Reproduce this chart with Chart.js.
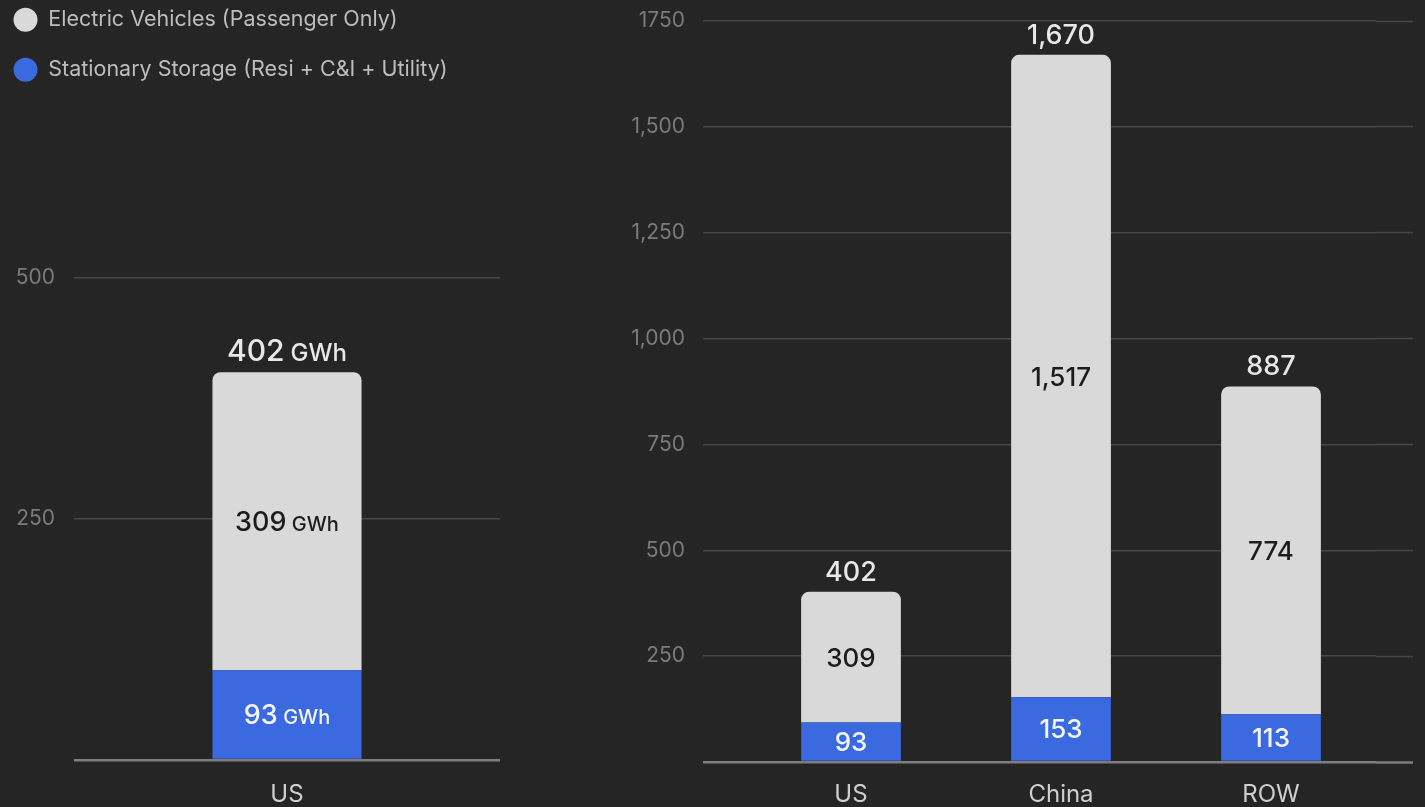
<!DOCTYPE html>
<html><head><meta charset="utf-8">
<script src="https://cdn.jsdelivr.net/npm/chart.js@4.4.1/dist/chart.umd.min.js"></script>
<style>
html,body{margin:0;padding:0;background:#252525;width:1425px;height:807px;overflow:hidden;}
#c1{position:absolute;left:0;top:0;}
#c2{position:absolute;left:560px;top:0;}
</style></head><body>
<canvas id="c1" width="560" height="807"></canvas>
<canvas id="c2" width="865" height="807"></canvas>
<script>
// ---- data ----
const seriesNames = ['Stationary Storage (Resi + C&I + Utility)', 'Electric Vehicles (Passenger Only)'];
const leftCategories = ['US'];
const leftStorage = [93];
const leftEV = [309];
const leftTickValues = [0, 250, 500];
const leftTickLabels = ['', '250', '500'];
const rightCategories = ['US', 'China', 'ROW'];
const rightStorage = [93, 153, 113];
const rightEV = [309, 1517, 774];
const rightTickValues = [0, 250, 500, 750, 1000, 1250, 1500, 1750];
const rightTickLabels = ['', '250', '500', '750', '1,000', '1,250', '1,500', '1750'];

// ---- styles ----
const BLUE = '#3b69e0';
const GREY = '#d9d9d9';
const GRID = '#474747';
const BASE = '#7e7e7e';
const FONT = 'Inter';

function drawLabel(ctx, x, y, value, sizes, color, unit, mode) {
  const num = value.toLocaleString('en-US');
  ctx.font = `500 ${sizes.num}px ${FONT}`;
  const w1 = ctx.measureText(num).width;
  let w2 = 0, gap = 0;
  if (unit) {
    ctx.font = `500 ${sizes.unit}px ${FONT}`;
    w2 = ctx.measureText(unit).width;
    gap = sizes.num * 0.2;
  }
  const sx = x - (w1 + gap + w2) / 2;
  const by = mode === 'mid' ? y + sizes.num * 0.364 : y;
  ctx.fillStyle = color;
  ctx.textAlign = 'left';
  ctx.textBaseline = 'alphabetic';
  ctx.font = `500 ${sizes.num}px ${FONT}`;
  ctx.fillText(num, sx, by);
  if (unit) {
    ctx.font = `500 ${sizes.unit}px ${FONT}`;
    ctx.fillText(unit, sx + w1 + gap, by);
  }
}

const valueLabels = {
  id: 'valueLabels',
  afterDatasetsDraw(chart, args, opts) {
    const ctx = chart.ctx;
    const m0 = chart.getDatasetMeta(0), m1 = chart.getDatasetMeta(1);
    ctx.save();
    m0.data.forEach((bar, i) => {
      const vS = chart.data.datasets[0].data[i];
      const vE = chart.data.datasets[1].data[i];
      const top = m1.data[i];
      drawLabel(ctx, bar.x, (bar.y + bar.base) / 2, vS, opts.inner, '#f3f5ff', opts.unit, 'mid');
      drawLabel(ctx, top.x, (top.y + top.base) / 2, vE, opts.inner, '#1c1c1c', opts.unit, 'mid');
      drawLabel(ctx, top.x, top.y - opts.gap, vS + vE, opts.total, '#e8e8e8', opts.unit, 'base');
    });
    ctx.restore();
  }
};

function gridColor(c) { return c.tick && c.tick.value === 0 ? BASE : GRID; }
function gridWidth(c) { return c.tick && c.tick.value === 0 ? 2.5 : 1.5; }

function datasets(storage, ev, pct) {
  return [
    { label: seriesNames[0], data: storage, backgroundColor: BLUE, borderWidth: 0, borderRadius: 0,
      categoryPercentage: 1, barPercentage: pct },
    { label: seriesNames[1], data: ev, backgroundColor: GREY, borderWidth: 0,
      borderRadius: { topLeft: 8, topRight: 8, bottomLeft: 0, bottomRight: 0 }, borderSkipped: 'start',
      categoryPercentage: 1, barPercentage: pct }
  ];
}

// ---- left chart ----
new Chart(document.getElementById('c1'), {
  type: 'bar',
  data: { labels: leftCategories, datasets: datasets(leftStorage, leftEV, 0.35) },
  options: {
    responsive: false, animation: false,
    layout: { padding: { top: -19.5, left: -15, right: 60, bottom: 0 } },
    plugins: {
      tooltip: { enabled: false },
      legend: {
        position: 'top', align: 'start',
        labels: {
          usePointStyle: true, pointStyle: 'circle', pointStyleWidth: 24, boxHeight: 17,
          padding: 28.5, color: '#bdbdbd', font: { family: FONT, size: 21.5 },
          sort: (a, b) => b.datasetIndex - a.datasetIndex
        }
      },
      valueLabels: { unit: 'GWh', inner: { num: 27, unit: 20 }, total: { num: 30, unit: 24 }, gap: 11 }
    },
    scales: {
      x: { stacked: true, grid: { display: false, drawTicks: false }, border: { display: false },
        afterFit: s => { s.height = 47; },
        ticks: { color: '#cfcfcf', font: { family: FONT, size: 24 }, padding: 20 } },
      y: { stacked: true, min: 0, max: 694,
        afterBuildTicks: s => { s.ticks = leftTickValues.map(v => ({ value: v })); },
        afterFit: s => { s.width = 89; },
        grid: { drawTicks: false, color: gridColor, lineWidth: gridWidth },
        border: { display: false },
        ticks: { padding: 19, color: '#7b7b7b', font: { family: FONT, size: 21 },
          callback: v => leftTickLabels[leftTickValues.indexOf(v)] } }
    }
  },
  plugins: [valueLabels]
});

// ---- right chart ----
new Chart(document.getElementById('c2'), {
  type: 'bar',
  data: { labels: rightCategories, datasets: datasets(rightStorage, rightEV, 0.475) },
  options: {
    responsive: false, animation: false,
    layout: { padding: { top: 21, left: 0, right: 0, bottom: 0 } },
    plugins: {
      tooltip: { enabled: false },
      legend: { display: false },
      valueLabels: { unit: '', inner: { num: 26, unit: 0 }, total: { num: 27, unit: 0 }, gap: 11 }
    },
    scales: {
      x: { stacked: true, grid: { display: false, drawTicks: false }, border: { display: false },
        afterFit: s => { s.height = 45; },
        ticks: { color: '#cfcfcf', font: { family: FONT, size: 24 }, padding: 18 } },
      y: { stacked: true, min: 0, max: 1750,
        afterBuildTicks: s => { s.ticks = rightTickValues.map(v => ({ value: v })); },
        afterFit: s => { s.width = 186; s.paddingTop = 0; s.paddingBottom = 0; },
        grid: { drawTicks: true, tickLength: 43, color: gridColor, tickColor: gridColor,
          lineWidth: gridWidth, tickWidth: gridWidth },
        border: { display: false },
        ticks: { padding: 18, color: '#7b7b7b', font: { family: FONT, size: 21 },
          callback: v => rightTickLabels[rightTickValues.indexOf(v)] } },
      y2: { position: 'right', min: 0, max: 1750,
        afterBuildTicks: s => { s.ticks = rightTickValues.map(v => ({ value: v })); },
        afterFit: s => { s.width = 49; s.paddingTop = 0; s.paddingBottom = 0; },
        grid: { drawOnChartArea: false, drawTicks: true, tickLength: 37, tickColor: gridColor, tickWidth: gridWidth },
        border: { display: false },
        ticks: { display: false } }
    }
  },
  plugins: [valueLabels]
});
</script>
</body></html>
